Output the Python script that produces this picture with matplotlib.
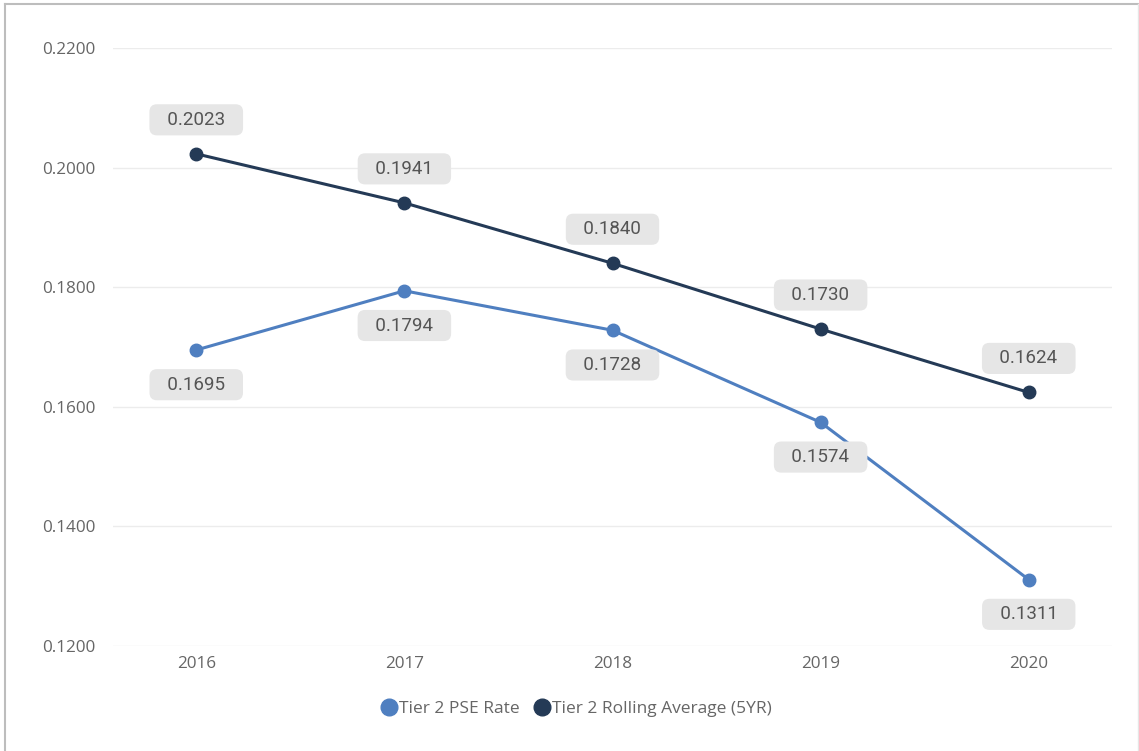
import matplotlib
matplotlib.use("Agg")
import matplotlib.pyplot as plt
from matplotlib.lines import Line2D

years = ["2016", "2017", "2018", "2019", "2020"]
pse_rate = [0.1695, 0.1794, 0.1728, 0.1574, 0.1311]
rolling_avg = [0.2023, 0.1941, 0.1840, 0.1730, 0.1624]
y_ticks = [0.12, 0.14, 0.16, 0.18, 0.20, 0.22]

light = "#4f7fc0"
dark = "#243a56"

fig = plt.figure(figsize=(11.39, 7.51), dpi=100)
ax = fig.add_axes([113/1139, 1-646/751, (1112-113)/1139, (646-48)/751])

x = list(range(len(years)))
ax.plot(x, pse_rate, color=light, lw=2.2, marker="o", ms=9, zorder=3)
ax.plot(x, rolling_avg, color=dark, lw=2.2, marker="o", ms=9, zorder=4)

box = dict(boxstyle="round,pad=0.35,rounding_size=0.4", fc="#e6e6e6", ec="none")
sp = "\u2002\u200a"
for xi, v in zip(x, rolling_avg):
    ax.annotate(f"{sp}{v:.4f}{sp}", (xi, v), xytext=(0, 24.5), textcoords="offset points",
                ha="center", va="center", fontsize=13.5, color="#555555",
                family=["Roboto", "DejaVu Sans"], bbox=box, zorder=5)
for xi, v in zip(x, pse_rate):
    ax.annotate(f"{sp}{v:.4f}{sp}", (xi, v), xytext=(0, -25), textcoords="offset points",
                ha="center", va="center", fontsize=13.5, color="#555555",
                family=["Roboto", "DejaVu Sans"], bbox=box, zorder=5)

ax.set_xlim(-0.4, 4.4)
ax.set_ylim(0.12, 0.22)
ax.set_xticks(x)
ax.set_xticklabels(years)
ax.set_yticks(y_ticks)
ax.set_yticklabels([f"{t:.4f}" for t in y_ticks])
ax.grid(axis="y", color="#ececec", lw=1)
ax.set_axisbelow(True)
for s in ax.spines.values():
    s.set_visible(False)
ax.tick_params(length=0, labelsize=12.3, colors="#666666")
ax.tick_params(axis="x", pad=7)
ax.tick_params(axis="y", pad=12.5)
for lbl in ax.get_xticklabels() + ax.get_yticklabels():
    lbl.set_family("Open Sans")

handles = [Line2D([], [], color=light, marker="o", ls="none", ms=12),
           Line2D([], [], color=dark, marker="o", ls="none", ms=12)]
leg = fig.legend(handles, ["Tier 2 PSE Rate", "Tier 2 Rolling Average (5YR)"],
                 loc="center", bbox_to_anchor=(574/1139, 1-709/751), ncol=2,
                 frameon=False, handletextpad=-0.15, columnspacing=0.5,
                 handlelength=1.5, prop={"family": "Open Sans", "size": 12.5})
for t in leg.get_texts():
    t.set_color("#666666")

# outer border
fig.add_artist(Line2D([4.5/1139, 4.5/1139], [0, 1-3.5/751], transform=fig.transFigure, color="#bdbdbd", lw=1.5))
fig.add_artist(Line2D([4.5/1139, 1], [1-3.5/751, 1-3.5/751], transform=fig.transFigure, color="#bdbdbd", lw=1.5))
fig.add_artist(Line2D([1137.5/1139, 1137.5/1139], [0, 1-3.5/751], transform=fig.transFigure, color="#e6e6e6", lw=1))

fig.savefig("out.png", dpi=100)
